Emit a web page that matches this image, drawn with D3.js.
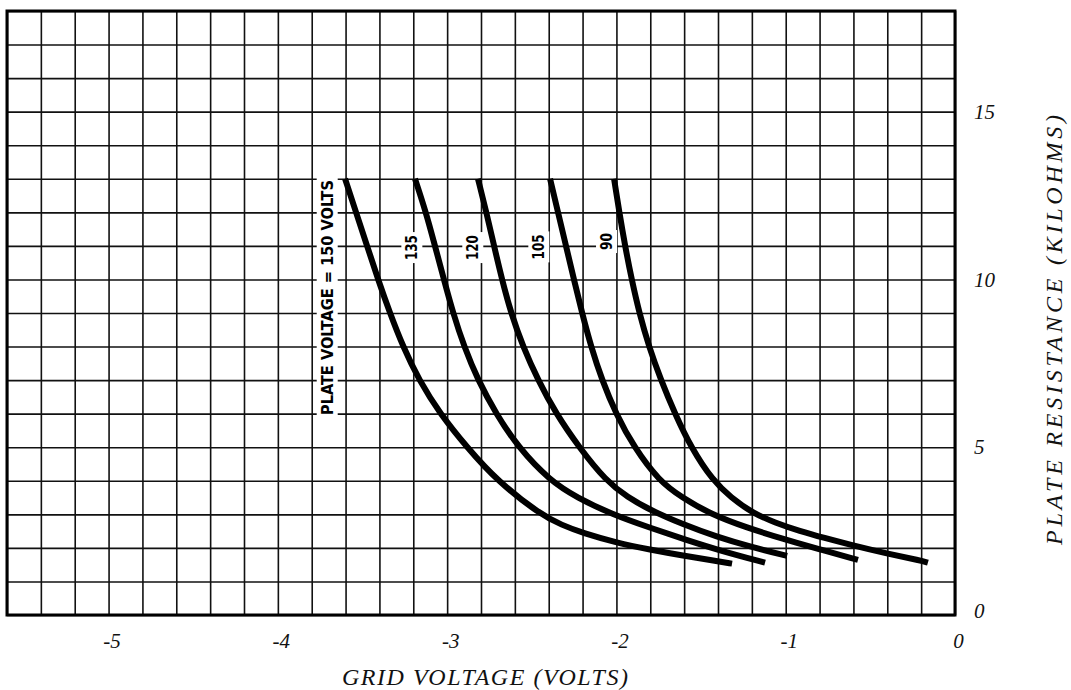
<!DOCTYPE html>
<html lang="en">
<head>
<meta charset="utf-8">
<title>Plate resistance vs grid voltage</title>
<style type="text/css">
  body { margin: 0; background: #fff; }
  svg { display: block; }
  .tick-label { font-family: "Liberation Serif", "DejaVu Serif", serif; font-style: italic; font-size: 21px; fill: #111; }
  .axis-title { font-family: "Liberation Serif", "DejaVu Serif", serif; font-style: italic; font-size: 24px; fill: #111; }
  .curve-label { font-family: "Liberation Sans Narrow", "DejaVu Sans Condensed", "Arial Narrow", sans-serif; font-weight: bold; font-stretch: condensed; font-size: 16px; fill: #000; }
</style>
</head>
<body>
<script src="https://cdn.jsdelivr.net/npm/d3@7"></script>
<script>

var w = 1071;
var h = 690;

// tick labels
var xTicks = [-5, -4, -3, -2, -1, 0];
var yTicks = [0, 5, 10, 15];

// curves: [grid volts, plate kilohms], one per plate voltage
var plateVolts = ["PLATE VOLTAGE = 150 VOLTS", "135", "120", "105", "90"];

var curve150 = [[-3.603, 13], [-3.538, 12], [-3.473, 11], [-3.408, 10], [-3.338, 9], [-3.261, 8],
    [-3.166, 7], [-3.042, 6], [-2.883, 5], [-2.705, 4], [-2.451, 3], [-2.322, 2.68], [-2.197, 2.44],
    [-1.997, 2.15], [-1.802, 1.95], [-1.607, 1.77], [-1.412, 1.61], [-1.317, 1.53]];
var curve135 = [[-3.19, 13], [-3.125, 12], [-3.072, 11], [-3.019, 10], [-2.965, 9], [-2.9, 8],
    [-2.818, 7], [-2.711, 6], [-2.581, 5], [-2.392, 4], [-2.233, 3.5], [-2.026, 3.0], [-1.802, 2.6],
    [-1.589, 2.24], [-1.388, 1.92], [-1.122, 1.56]];
var curve120 = [[-2.818, 13], [-2.768, 12], [-2.723, 11], [-2.676, 10], [-2.623, 9], [-2.552, 8],
    [-2.463, 7], [-2.357, 6], [-2.221, 5], [-2.062, 4], [-1.932, 3.5], [-1.802, 3.13], [-1.607, 2.7],
    [-1.408, 2.33], [-1.207, 2.03], [-0.992, 1.76]];
var curve105 = [[-2.392, 13], [-2.345, 12], [-2.298, 11], [-2.251, 10], [-2.203, 9], [-2.15, 8],
    [-2.085, 7], [-2.003, 6], [-1.896, 5], [-1.749, 4], [-1.613, 3.5], [-1.441, 3.0], [-1.229, 2.6],
    [-1.01, 2.26], [-0.809, 1.97], [-0.573, 1.64]];
var curve90 = [[-2.014, 13], [-1.983, 12], [-1.949, 11], [-1.91, 10], [-1.865, 9], [-1.808, 8],
    [-1.737, 7], [-1.654, 6], [-1.56, 5], [-1.43, 4], [-1.323, 3.5], [-1.199, 3.05], [-1.063, 2.75],
    [-0.916, 2.5], [-0.774, 2.3], [-0.608, 2.08], [-0.402, 1.83], [-0.201, 1.62], [-0.16, 1.56]];

// where each curve label sits (data units)
var labelX = [-3.71, -3.21, -2.85, -2.46, -2.06];
var labelY = [9.46, 10.95, 10.95, 10.97, 11.13];

var curves = [curve150, curve135, curve120, curve105, curve90];

var svg = d3.select("body")
        .append("svg")
        .attr("width", w)
        .attr("height", h);

var x = d3.scaleLinear().domain([-5.6, 0]).range([7, 955]);
var y = d3.scaleLinear().domain([0, 18]).range([615, 11]);

//grid lines, one every 0.2 volt and every kilohm
var gridX = d3.range(0, 29).map(function(i) { return -5.6 + i * 0.2; });
var gridY = d3.range(0, 19);

svg.append("g")
    .attr("transform", "translate(0," + y(0) + ")")
    .call(d3.axisBottom(x).tickValues(gridX).tickSize(-(y(0) - y(18))).tickFormat(""))
    .call(function(g) {
        g.select(".domain").remove();
        g.selectAll("line").attr("stroke", "#111").attr("stroke-width", 1.6);
    });

svg.append("g")
    .attr("transform", "translate(" + x(-5.6) + ",0)")
    .call(d3.axisLeft(y).tickValues(gridY).tickSize(-(x(0) - x(-5.6))).tickFormat(""))
    .call(function(g) {
        g.select(".domain").remove();
        g.selectAll("line").attr("stroke", "#111").attr("stroke-width", 1.6);
    });

//frame
svg.append("rect")
    .attr("x", x(-5.6))
    .attr("y", y(18))
    .attr("width", x(0) - x(-5.6))
    .attr("height", y(0) - y(18))
    .attr("fill", "none")
    .attr("stroke", "#000")
    .attr("stroke-width", 3);

//tick labels
svg.append("g")
    .attr("transform", "translate(0," + (y(0) + 15) + ")")
    .call(d3.axisBottom(x).tickValues(xTicks).tickSize(0).tickFormat(function(d) { return String(d); }))
    .call(function(g) {
        g.select(".domain").remove();
        g.selectAll("text").attr("class", "tick-label").attr("dy", "0.71em").attr("dx", "3");
    });

svg.append("g")
    .attr("transform", "translate(" + (x(0) + 19) + ",0)")
    .call(d3.axisRight(y).tickValues(yTicks).tickSize(0).tickFormat(function(d) { return String(d); }))
    .call(function(g) {
        g.select(".domain").remove();
        g.selectAll("text").attr("class", "tick-label").attr("x", 0);
        g.selectAll(".tick").filter(function(d) { return d === 0; })
            .select("text").attr("dy", "0.1em");
    });

//axis titles
svg.append("text")
    .attr("class", "axis-title")
    .attr("x", 485)
    .attr("y", 685)
    .attr("text-anchor", "middle")
    .attr("textLength", 286)
    .attr("lengthAdjust", "spacing")
    .text("GRID VOLTAGE (VOLTS)");

svg.append("text")
    .attr("class", "axis-title")
    .attr("transform", "translate(1062,330) rotate(-90)")
    .attr("text-anchor", "middle")
    .attr("textLength", 430)
    .attr("lengthAdjust", "spacing")
    .text("PLATE RESISTANCE (KILOHMS)");

//curve labels with white backing
var labelLen = [235, 25, 25, 25, 17];
var lab = svg.selectAll("g.clabel")
    .data(plateVolts)
    .enter()
    .append("g")
    .attr("class", "clabel")
    .attr("transform", function(d, i) {
        return "translate(" + x(labelX[i]) + "," + y(labelY[i]) + ") rotate(-90)";
    });

lab.append("text")
    .attr("class", "curve-label")
    .attr("text-anchor", "middle")
    .attr("dy", "0.36em")
    .attr("textLength", function(d, i) { return labelLen[i]; })
    .attr("lengthAdjust", "spacingAndGlyphs")
    .text(function(d) { return d; });

lab.each(function() {
    var g = d3.select(this);
    var b = g.select("text").node().getBBox();
    g.insert("rect", "text")
        .attr("x", b.x - 3)
        .attr("y", b.y - 1)
        .attr("width", b.width + 6)
        .attr("height", b.height + 2)
        .attr("fill", "#fff");
});

//curves
var line = d3.line()
    .x(function(d) { return x(d[0]); })
    .y(function(d) { return y(d[1]); })
    .curve(d3.curveBasis);

svg.selectAll("path.curve")
    .data(curves)
    .enter()
    .append("path")
    .attr("class", "curve")
    .attr("d", line)
    .attr("fill", "none")
    .attr("stroke", "#000")
    .attr("stroke-width", 6);

</script>
</body>
</html>
